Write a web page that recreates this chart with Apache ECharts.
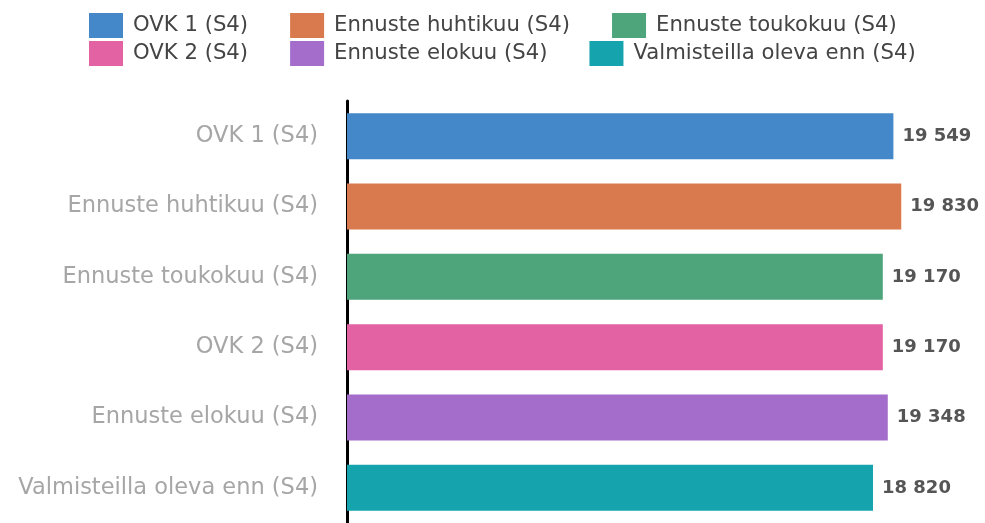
<!DOCTYPE html>
<html>
<head>
<meta charset="utf-8">
<script src="https://cdn.jsdelivr.net/npm/echarts@6/dist/echarts.min.js"></script>
<style>
    html, body { margin: 0; padding: 0; background: #fff; }
    #chart { width: 985px; height: 523px; }
</style>
</head>
<body>
<div id="chart"></div>
<script>
    // kategoriat ja arvot
    var categories = ['OVK 1 (S4)', 'Ennuste huhtikuu (S4)', 'Ennuste toukokuu (S4)',
        'OVK 2 (S4)', 'Ennuste elokuu (S4)', 'Valmisteilla oleva enn (S4)'];
    var values = [19549, 19830, 19170, 19170, 19348, 18820];
    var colors = ['#4588c9', '#d97a4e', '#4ea57c', '#e362a4', '#a46dcb', '#15a3ae'];

    var font = 'DejaVu Sans';

    function fmt(v) {
        return String(v).replace(/\B(?=(\d{3})+(?!\d))/g, ' ');
    }

    // yksi sarja per kategoria, jotta legenda saa oman värin
    var series = [];
    for (var i = 0; i < categories.length; i++) {
        var d = [];
        for (var j = 0; j < categories.length; j++) {
            d.push(j === i ? values[i] : '-');
        }
        series.push({
            name: categories[i],
            type: 'bar',
            stack: 'all',
            barWidth: 46,
            itemStyle: { color: colors[i] },
            label: {
                show: true,
                position: 'right',
                distance: 9,
                color: '#555',
                fontWeight: 'bold',
                fontSize: 18,
                fontFamily: font,
                formatter: function (p) { return fmt(p.value); }
            },
            data: d
        });
    }

    var legendText = { color: '#444', fontSize: 21.2, fontFamily: font, padding: [0, 0, 0, 5] };

    var myChart = echarts.init(document.getElementById('chart'));
    var option = {
        animation: false,
        legend: [
            {
                left: 89, top: 13, padding: 0,
                itemWidth: 34, itemHeight: 25, itemGap: 42,
                icon: 'rect',
                textStyle: legendText,
                data: categories.slice(0, 3)
            },
            {
                left: 89, top: 41, padding: 0,
                itemWidth: 34, itemHeight: 25, itemGap: 42,
                icon: 'rect',
                textStyle: legendText,
                data: categories.slice(3)
            }
        ],
        grid: {
            left: 347,
            top: 101,
            width: 559,
            height: 426
        },
        xAxis: {
            type: 'value',
            min: 0,
            max: 20000,
            show: false
        },
        yAxis: {
            type: 'category',
            inverse: true,
            data: categories,
            axisLine: { show: true, lineStyle: { color: '#000', width: 3 } },
            axisTick: { show: false },
            axisLabel: {
                color: '#a6a6a6',
                fontSize: 22.5,
                fontFamily: font,
                margin: 29,
                padding: [6, 0, 0, 0]
            }
        },
        series: series
    };
    myChart.setOption(option);
</script>
</body>
</html>
